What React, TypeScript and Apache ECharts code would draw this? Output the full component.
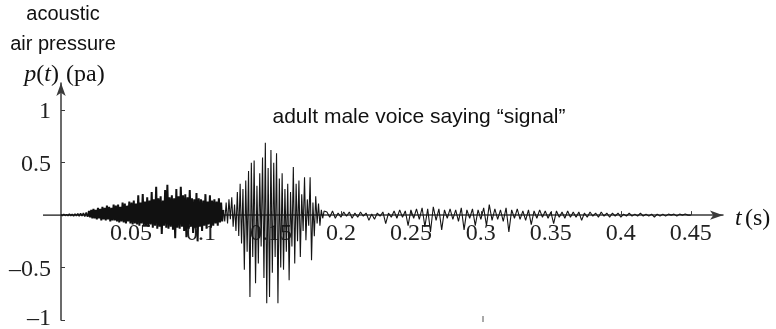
import React, { useEffect, useRef } from "react";
import * as echarts from "echarts";

const preStart = 0;
const preStep = 0.001;
const preValues = [0.005, -0.005, 0.008, -0.004, 0.006, -0.006, 0.01, -0.005, 0.008, -0.008, 0.012, -0.006, 0.015, -0.01, 0.018, -0.008, 0.02, -0.012, 0.025, -0.015];

const fricStart = 0.02;
const fricStep = 0.0008;
const fricValues = [
  0.04, -0.02, 0.05, -0.03, 0.06, -0.03, 0.05, -0.04, 0.07, -0.03, 0.06, -0.05, 0.08,
  -0.04, 0.07, -0.05, 0.09, -0.04, 0.08, -0.06, 0.07, -0.05, 0.1, -0.05, 0.09, -0.06,
  0.1, -0.07, 0.08, -0.06, 0.12, -0.07, 0.11, -0.08, 0.09, -0.06, 0.13, -0.08,
  0.12, -0.09, 0.14, -0.08, 0.11, -0.09, 0.19, -0.1, 0.12, -0.08, 0.2, -0.1, 0.13,
  -0.1, 0.17, -0.11, 0.14, -0.09, 0.22, -0.12, 0.15, -0.1, 0.27, -0.13, 0.16,
  -0.11, 0.18, -0.18, 0.14, -0.1, 0.24, -0.12, 0.29, -0.13, 0.17, -0.11, 0.19, -0.14,
  0.16, -0.22, 0.25, -0.12, 0.18, -0.13, 0.27, -0.11, 0.19, -0.15, 0.2, -0.21,
  0.17, -0.13, 0.24, -0.11, 0.16, -0.17, 0.15, -0.12, 0.21, -0.25, 0.16, -0.11, 0.15,
  -0.15, 0.14, -0.1, 0.2, -0.13, 0.13, -0.09, 0.19, -0.12, 0.14, -0.1, 0.15,
  -0.08, 0.13, -0.1, 0.16, -0.07, 0.12, -0.06,
];

const voicedStart = 0.116;
const voicedStep = 0.001;
const voicedValues = [
  0.05, -0.06, 0.12, -0.08, 0.15, -0.04, 0.17, -0.11, 0.1, -0.15,
  0.22, -0.2, 0.3, -0.27, 0.25, -0.52, 0.33, -0.35, 0.42, -0.78,
  0.5, -0.4, 0.52, -0.65, 0.28, -0.46, 0.4, -0.3, 0.55, -0.6,
  0.69, -0.84, 0.45, -0.78, 0.62, -0.55, 0.5, -0.4, 0.59, -0.84,
  0.35, -0.5, 0.4, -0.52, 0.25, -0.35, 0.3, -0.62, 0.22, -0.3,
  0.46, -0.46, 0.3, -0.25, 0.33, -0.4, 0.2, -0.15, 0.36, -0.24,
  0.15, -0.1, 0.36, -0.43, 0.12, -0.2, 0.18, -0.08, 0.11, -0.1,
  0.05, -0.03, 0.04,
];

const tailStart = 0.19;
const tailStep = 0.002;
const tailValues = [
  0.03, -0.02, 0.04, -0.03, 0.02, -0.02, 0.03, -0.01, 0.03, -0.03,
  0.02, -0.02, 0.03, -0.01, 0.02, -0.05, 0.01, -0.04, 0.02, -0.01,
  0.03, -0.08, 0.02, -0.02, 0.04, -0.03, 0.05, -0.02, 0.04, -0.1,
  0.05, -0.03, 0.06, -0.04, 0.07, -0.11, 0.06, -0.16, 0.08, -0.05,
  0.06, -0.14, 0.05, -0.03, 0.06, -0.04, 0.05, -0.06, 0.07, -0.14,
  0.05, -0.03, 0.06, -0.1, 0.05, -0.04, 0.07, -0.1, 0.1, -0.05,
  0.06, -0.04, 0.05, -0.06, 0.07, -0.16, 0.05, -0.03, 0.06, -0.04,
  0.04, -0.05, 0.05, -0.09, 0.04, -0.03, 0.05, -0.02, 0.04, -0.03,
  0.03, -0.08, 0.04, -0.02, 0.03, -0.03, 0.04, -0.02, 0.03, -0.02,
  0.03, -0.05, 0.02, -0.02, 0.03, -0.01, 0.02, -0.02, 0.03, -0.01,
  0.02, -0.02, 0.02, -0.01, 0.02, -0.02, 0.01, -0.01, 0.02, -0.01,
  0.01, -0.01, 0.02, -0.01, 0.01, -0.01, 0.01, -0.02, 0.01, -0.01,
  0.01, -0.01, 0.01, 0, 0.01, -0.01, 0.01, 0, 0.01, 0, 0,
];

const xTicks = [0.05, 0.1, 0.15, 0.2, 0.25, 0.3, 0.35, 0.4, 0.45];
const yTicks = [-1, -0.5, 0.5, 1];

const title = "adult male voice saying \u201csignal\u201d";

function segment(start: number, step: number, values: number[]): [number, number][] {
  return values.map((v, i) => [+(start + i * step).toFixed(5), v]);
}

const SERIF = "'Liberation Serif', 'DejaVu Serif', serif";
const SANS = "'Liberation Sans', Arial, sans-serif";

function isTick(v: number, list: number[]) {
  return list.some((t) => Math.abs(t - v) < 1e-6);
}

const X_MAX = 0.473;
const Y_MIN = -1;
const Y_MAX = 1.26;
const GRID = { left: 61, right: 53, top: 83, bottom: 9 };
const H = 329;

export default function App() {
  const ref = useRef<HTMLDivElement>(null);
  useEffect(() => {
    if (!ref.current) return;
    const chart = echarts.init(ref.current, undefined, { renderer: "svg" });
    const pre = segment(preStart, preStep, preValues);
    const fric = segment(fricStart, fricStep, fricValues);
    const voiced = segment(voicedStart, voicedStep, voicedValues);
    const tail = segment(tailStart, tailStep, tailValues);
    const gridH = H - GRID.top - GRID.bottom;
    const zeroOffset = (gridH * (0 - Y_MIN)) / (Y_MAX - Y_MIN);
    const zeroY = GRID.top + gridH - zeroOffset;
    const lineBase = { type: "line", showSymbol: false, symbol: "none", z: 1 };
    chart.setOption({
      animation: false,
      grid: { ...GRID, containLabel: false, outerBoundsMode: "none" },
      xAxis: {
        type: "value",
        min: 0,
        max: X_MAX,
        interval: 0.05,
        position: "bottom",
        offset: -zeroOffset,
        splitLine: { show: false },
        axisLine: {
          onZero: false,
          lineStyle: { color: "#3a3a3a", width: 1.5 },
          symbol: ["none", "arrow"],
          symbolSize: [7, 13],
        },
        axisTick: {
          show: true,
          inside: true,
          length: 4,
          customValues: xTicks,
          lineStyle: { color: "#3a3a3a", width: 1 },
        },
        axisLabel: {
          customValues: xTicks,
          margin: 5,
          color: "#222",
          fontFamily: SERIF,
          fontSize: 24,
          formatter: (v: number) => (isTick(v, xTicks) ? String(v) : ""),
        },
      },
      yAxis: {
        type: "value",
        min: Y_MIN,
        max: Y_MAX,
        interval: 0.5,
        splitLine: { show: false },
        axisLine: {
          onZero: false,
          lineStyle: { color: "#3a3a3a", width: 1.5 },
          symbol: ["none", "arrow"],
          symbolSize: [7, 13],
        },
        axisTick: {
          show: true,
          inside: true,
          length: 4,
          customValues: yTicks,
          lineStyle: { color: "#3a3a3a", width: 1 },
        },
        axisLabel: {
          customValues: yTicks,
          margin: 10,
          color: "#222",
          fontFamily: SERIF,
          fontSize: 24,
          formatter: (v: number) => {
            if (!isTick(v, yTicks)) return "";
            const s = String(v).replace("-", "\u2013");
            return v === Y_MIN ? `{low|${s}}` : s;
          },
          rich: {
            low: {
              fontFamily: SERIF,
              fontSize: 24,
              color: "#222",
              lineHeight: 18,
              padding: [0, 0, 7, 0],
            },
          },
        },
      },
      series: [
        { ...lineBase, data: pre, lineStyle: { color: "#151515", width: 1.5 } },
        { ...lineBase, data: [pre[pre.length - 1], ...fric, voiced[0]], lineStyle: { color: "#111", width: 2 } },
        { ...lineBase, data: voiced, lineStyle: { color: "#151515", width: 1.1 } },
        { ...lineBase, data: [voiced[voiced.length - 1], ...tail], lineStyle: { color: "#151515", width: 1.1 } },
      ],
      graphic: [
        {
          type: "line",
          shape: { x1: 43, y1: zeroY, x2: 62, y2: zeroY },
          style: { stroke: "#3a3a3a", lineWidth: 1.5 },
        },
        {
          type: "line",
          shape: { x1: 483, y1: 316, x2: 483, y2: 322 },
          style: { stroke: "#555", lineWidth: 1 },
        },
        {
          type: "text",
          x: 63,
          y: 13,
          style: { text: "acoustic", fill: "#111", font: `20px ${SANS}`, align: "center", verticalAlign: "middle" },
        },
        {
          type: "text",
          x: 63,
          y: 43,
          style: { text: "air pressure", fill: "#111", font: `20px ${SANS}`, align: "center", verticalAlign: "middle" },
        },
        {
          type: "text",
          x: 59,
          y: 73,
          style: {
            text: "{i|p}{n|(}{i|t}{n|)}",
            align: "right",
            verticalAlign: "middle",
            rich: {
              i: { fontFamily: SERIF, fontSize: 24, fontStyle: "italic", fill: "#111" },
              n: { fontFamily: SERIF, fontSize: 24, fill: "#111" },
            },
          },
        },
        {
          type: "text",
          x: 66,
          y: 73,
          style: { text: "(pa)", fill: "#111", font: `24px ${SERIF}`, align: "left", verticalAlign: "middle" },
        },
        {
          type: "text",
          x: 419,
          y: 115,
          style: { text: title, fill: "#111", font: `21px ${SANS}`, align: "center", verticalAlign: "middle" },
        },
        {
          type: "text",
          x: 735,
          y: zeroY + 2,
          style: {
            text: "{i|t} {n|(s)}",
            align: "left",
            verticalAlign: "middle",
            rich: {
              i: { fontFamily: SERIF, fontSize: 24, fontStyle: "italic", fill: "#111" },
              n: { fontFamily: SERIF, fontSize: 24, fill: "#111" },
            },
          },
        },
      ],
    });
    return () => chart.dispose();
  }, []);
  return (
    <div
      ref={ref}
      style={{ position: "fixed", left: 0, top: 0, width: 776, height: 329 }}
    />
  );
}
